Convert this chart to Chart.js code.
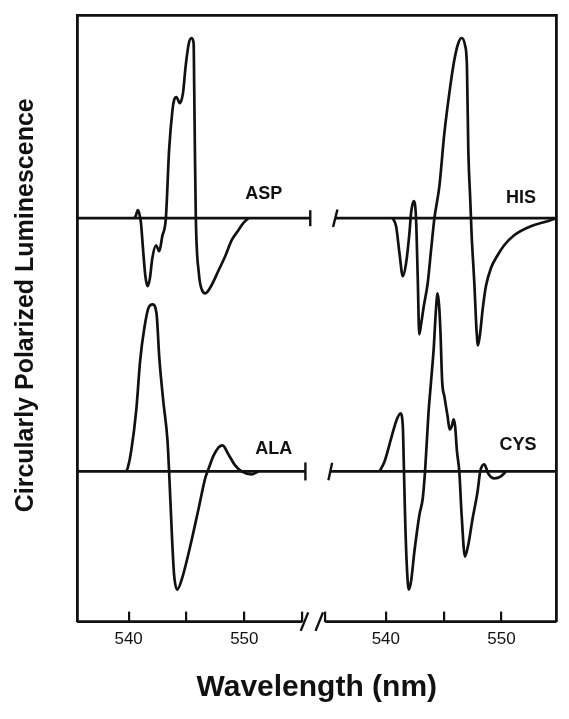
<!DOCTYPE html>
<html>
<head>
<meta charset="utf-8">
<title>Circularly Polarized Luminescence</title>
<script src="https://cdn.jsdelivr.net/npm/chart.js@4.4.1/dist/chart.umd.min.js"></script>
<style>
  html, body { margin: 0; padding: 0; background: #fff; }
  #wrap { width: 569px; height: 719px; }
</style>
</head>
<body>
<div id="wrap"><canvas id="cpl" width="569" height="719"></canvas></div>
<script>
/* ── data (nm / CPL, arbitrary units) ── */

const aspWl  = [540.51, 540.64, 540.79, 540.94, 541.07, 541.24, 541.45, 541.65, 541.84, 542.05,
                542.37, 542.65, 542.91, 543.22, 543.50, 543.79, 543.93, 544.13, 544.42, 544.70,
                544.93, 545.21, 545.44, 545.62, 545.67, 545.73, 545.81, 546.07, 546.35, 546.64,
                547.07, 547.78, 548.35, 548.91, 549.49, 549.91, 550.34];
const aspCpl = [0, 3, 8, 4, -5, -30, -58, -68, -60, -40,
                -27, -33, -18, 0, 68, 108, 118, 121, 115, 125,
                152, 175, 180, 175, 131, 68, 0, -55, -72, -75,
                -69, -52, -38, -22, -12, -5, 0];

const hisWl  = [540.60, 540.89, 541.18, 541.47, 541.75, 542.04, 542.18, 542.41, 542.61, 542.76,
                542.89, 543.06, 543.28, 543.62, 543.91, 544.20, 544.63, 545.06, 545.49, 545.92,
                546.27, 546.55, 546.84, 547.01, 547.13, 547.30, 547.41, 547.65, 547.84, 547.97,
                548.15, 548.36, 548.65, 549.08, 549.66, 550.23, 551.09, 552.53, 553.97, 554.70];
const hisCpl = [0, -8, -35, -58, -45, -15, 5, 17, 0, -60,
                -116, -105, -88, -65, -32, 0, 32, 85, 125, 158,
                175, 180, 173, 152, 68, 18, -15, -65, -112, -127,
                -115, -92, -68, -50, -37, -27, -17, -8, -3, 0];

const alaWl  = [539.80, 539.94, 540.23, 540.66, 541.00, 541.37, 541.74, 542.08, 542.42, 542.65,
                542.99, 543.36, 543.50, 543.74, 543.93, 544.21, 544.64, 545.36, 546.07, 546.64,
                546.92, 547.35, 547.78, 548.12, 548.63, 549.21, 549.77, 550.62, 551.20];
const alaCpl = [0, 4, 21, 61, 111, 144, 164, 167, 157, 114,
                71, 31, 0, -63, -103, -118, -106, -73, -36, -6,
                3, 16, 24, 26, 17, 6, 0, -3, 0];

const cysWl  = [539.46, 539.89, 540.46, 540.89, 541.27, 541.47, 541.55, 541.66, 541.81, 541.98,
                542.18, 542.47, 542.91, 543.19, 543.39, 543.68, 543.91, 544.14, 544.34, 544.48,
                544.61, 544.72, 544.87, 545.06, 545.34, 545.52, 545.69, 545.86, 545.99, 546.15,
                546.35, 546.55, 546.84, 547.13, 547.50, 547.93, 548.16, 548.51, 548.85, 549.37,
                549.94, 550.37];
const cysCpl = [0, 10, 33, 50, 58, 45, 10, -43, -93, -118,
                -110, -80, -43, -27, 0, 57, 90, 123, 163, 178,
                165, 140, 90, 75, 55, 42, 45, 52, 45, 20,
                0, -43, -85, -73, -47, -20, 0, 7, -2, -7,
                -5, 0];

const tickWl     = [540, 545, 550];
const tickLabels = ["540", "", "550"];
const curveNames = ["ASP", "HIS", "ALA", "CYS"];
const yTitle     = "Circularly Polarized Luminescence";

/* ── broken axis setup ─────────────────────────────────────── */
const X_MIN = 535.54, X_MAX = 576.99;   // continuous axis, right panel shifted
const SHIFT = 22.23;                    // right panel offset (nm)
const Y_MIN = -150, Y_MAX = 456;
const TOP_ROW = 253;                    // upper row baseline offset

const LEFT_AXIS_END = 555.0;            // end of left bottom axis
const RIGHT_AXIS_START = 534.76;        // start of right bottom axis
const baseLeftEnd    = [555.7, 555.28]; // upper / lower row
const baseRightStart = [535.63, 535.2];
const slashWl        = [555.2, 534.25 + SHIFT];

// label anchors (nm, height above the row baseline)
const labelWl    = [551.68, 551.68 + SHIFT, 552.54, 551.42 + SHIFT];
const labelLift  = [TOP_ROW + 24, TOP_ROW + 20, 22, 26];

const INK  = "#111";
const FONT = '"Liberation Sans", Arial, Helvetica, sans-serif';

const xTicks    = [...tickWl, LEFT_AXIS_END, RIGHT_AXIS_START + SHIFT, ...tickWl.map(w => w + SHIFT)];
const xTickText = [...tickLabels, "", "", ...tickLabels];

const toPts = (wl, cpl, shift, lift) => wl.map((w, i) => ({ x: w + shift, y: cpl[i] + lift }));

const curve = (data) => ({
  data, borderColor: INK, borderWidth: 2.7, pointRadius: 0, fill: false,
  cubicInterpolationMode: "monotone",
});

const rule = (data, radii, rot) => ({
  data, borderColor: INK, borderWidth: 2.8, fill: false, clip: false,
  pointStyle: "line", pointRadius: radii, pointRotation: rot,
  pointBorderColor: INK, pointBorderWidth: 2.4,
});

const datasets = [
  curve(toPts(aspWl, aspCpl, 0, TOP_ROW)),
  curve(toPts(hisWl, hisCpl, SHIFT, TOP_ROW)),
  curve(toPts(alaWl, alaCpl, 0, 0)),
  curve(toPts(cysWl, cysCpl, SHIFT, 0)),
  // zero lines with break ticks
  rule([{ x: X_MIN, y: TOP_ROW }, { x: baseLeftEnd[0], y: TOP_ROW }], [0, 8], 90),
  rule([{ x: baseRightStart[0] + SHIFT, y: TOP_ROW }, { x: X_MAX, y: TOP_ROW }], [9, 0], -76),
  rule([{ x: X_MIN, y: 0 }, { x: baseLeftEnd[1], y: 0 }], [0, 9], 90),
  rule([{ x: baseRightStart[1] + SHIFT, y: 0 }, { x: X_MAX, y: 0 }], [9, 0], -78),
  // bottom axis, in two pieces
  rule([{ x: X_MIN, y: Y_MIN }, { x: LEFT_AXIS_END, y: Y_MIN }], 0, 0),
  rule([{ x: RIGHT_AXIS_START + SHIFT, y: Y_MIN }, { x: X_MAX, y: Y_MIN }], 0, 0),
  // break slashes
  Object.assign(rule(slashWl.map(w => ({ x: w, y: Y_MIN })), 10, -68), { showLine: false }),
];

/* ── curve names + y title (title sits a bit above centre in the original) ── */
const chartText = {
  id: "chartText",
  afterDatasetsDraw(chart) {
    const { ctx, chartArea, scales: { x, y } } = chart;
    ctx.save();
    ctx.fillStyle = INK;
    ctx.textAlign = "center";
    ctx.textBaseline = "middle";
    ctx.font = "bold 18px " + FONT;
    curveNames.forEach((name, i) => {
      ctx.fillText(name, x.getPixelForValue(labelWl[i]), y.getPixelForValue(labelLift[i]));
    });
    ctx.font = "bold 25px " + FONT;
    ctx.translate(chartArea.left - 51, (chartArea.top + chartArea.bottom) / 2 - 13);
    ctx.rotate(-Math.PI / 2);
    ctx.fillText(yTitle, 0, 0);
    ctx.restore();
  },
};

const frameAxis = (position) => ({
  position, display: true,
  border: { display: true, color: INK, width: 2.8 },
  grid: { display: false, drawTicks: false },
  ticks: { display: false },
});

new Chart(document.getElementById("cpl"), {
  type: "line",
  data: { datasets },
  plugins: [chartText],
  options: {
    responsive: false,
    animation: false,
    events: [],
    layout: { padding: { left: 77, right: 6, top: 15, bottom: 0 } },
    plugins: { legend: { display: false }, tooltip: { enabled: false } },
    scales: {
      x: {
        type: "linear", position: "bottom", min: X_MIN, max: X_MAX,
        border: { display: false },
        grid: { display: true, drawOnChartArea: false, drawTicks: true, tickLength: -10, color: INK, lineWidth: 2.2 },
        afterBuildTicks: (axis) => { axis.ticks = xTicks.map(v => ({ value: v })); },
        ticks: {
          autoSkip: false, maxRotation: 0, padding: 18, color: INK,
          font: { family: FONT, size: 17 },
          callback: (v, i) => xTickText[i],
        },
        title: {
          display: true, text: "Wavelength (nm)", color: INK,
          font: { family: FONT, size: 30, weight: "bold" },
          padding: { top: 2, bottom: 13 },
        },
      },
      y: Object.assign(frameAxis("left"), { type: "linear", min: Y_MIN, max: Y_MAX }),
      xTop: frameAxis("top"),
      yRight: frameAxis("right"),
    },
  },
});
</script>
</body>
</html>
